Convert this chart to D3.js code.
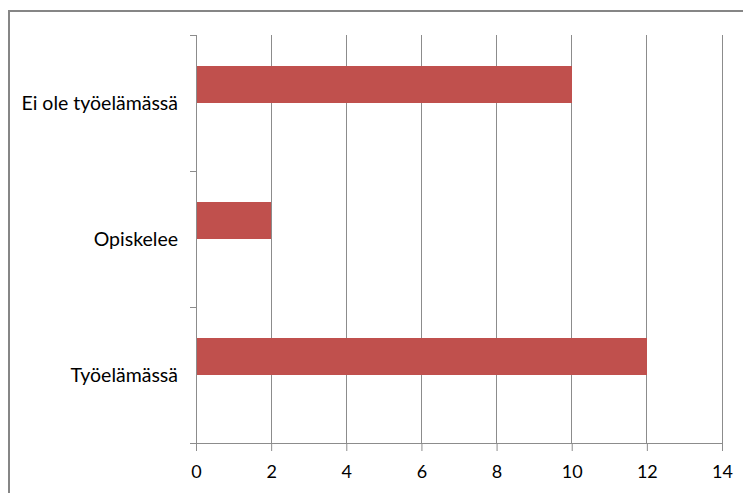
<!DOCTYPE html>
<html>
<head>
<meta charset="utf-8">
<script src="https://cdn.jsdelivr.net/npm/d3@7"></script>
<style>
  html, body { margin: 0; padding: 0; background: #fff; }
  svg { display: block; }
  text { font-family: Lato, "Open Sans", sans-serif; fill: #000; }
</style>
</head>
<body>
<svg id="chart" width="743" height="493"></svg>
<script>
// Categories listed top to bottom
const categories = ["Ei ole työelämässä", "Opiskelee", "Työelämässä"];
const values = [10, 2, 12];
const xTicks = [0, 2, 4, 6, 8, 10, 12, 14];

const svg = d3.select("#chart");
const W = 743, H = 493;
const margin = { top: 35, right: 21, bottom: 50, left: 196 };

// Outer frame
svg.append("rect")
  .attr("x", 9).attr("y", 11)
  .attr("width", W + 20).attr("height", H + 20)
  .attr("fill", "none")
  .attr("stroke", "#868686")
  .attr("stroke-width", 2);

const x = d3.scaleLinear().domain([0, 14]).range([margin.left, W - margin.right]);
const y = d3.scaleBand().domain(categories).range([margin.top, H - margin.bottom]).padding(0);
const bw = y.bandwidth();

// Vertical gridlines
svg.append("g").selectAll("line")
  .data(xTicks.slice(1))
  .join("line")
  .attr("x1", d => x(d)).attr("x2", d => x(d))
  .attr("y1", margin.top).attr("y2", H - margin.bottom)
  .attr("stroke", "#8c8c8c")
  .attr("stroke-width", 1)
  .attr("shape-rendering", "crispEdges");

// Bars
svg.append("g").selectAll("rect")
  .data(categories.map((c, i) => ({ c, v: values[i] })))
  .join("rect")
  .attr("x", x(0))
  .attr("y", d => y(d.c) + bw * 0.228)
  .attr("width", d => x(d.v) - x(0))
  .attr("height", bw * 0.272)
  .attr("fill", "#c0504d")
  .attr("shape-rendering", "crispEdges");

// X axis
const xAxis = svg.append("g")
  .attr("transform", `translate(0,${H - margin.bottom})`)
  .call(d3.axisBottom(x).tickValues(xTicks).tickSize(8).tickPadding(14));
xAxis.select(".domain").attr("stroke", "#8c8c8c");
xAxis.selectAll(".tick line").attr("stroke", "#8c8c8c");
xAxis.selectAll("text").attr("font-size", 18).attr("font-family", "Lato, sans-serif").attr("fill", "#000");

// Y axis: ticks at category boundaries, labels centred in each band
const yAxis = svg.append("g").attr("transform", `translate(${margin.left},0)`);
yAxis.append("line")
  .attr("x1", 0).attr("x2", 0)
  .attr("y1", margin.top).attr("y2", H - margin.bottom)
  .attr("stroke", "#8c8c8c")
  .attr("shape-rendering", "crispEdges");
const bounds = categories.map(c => y(c)).concat([y.range()[1]]);
yAxis.selectAll("line.b")
  .data(bounds)
  .join("line")
  .attr("class", "b")
  .attr("x1", -6).attr("x2", 0)
  .attr("y1", d => d).attr("y2", d => d)
  .attr("stroke", "#8c8c8c")
  .attr("shape-rendering", "crispEdges");
yAxis.selectAll("text")
  .data(categories)
  .join("text")
  .attr("x", -18)
  .attr("y", d => y(d) + bw / 2)
  .attr("dy", "0.35em")
  .attr("text-anchor", "end")
  .attr("font-size", 19.5)
  .text(d => d);
</script>
</body>
</html>
